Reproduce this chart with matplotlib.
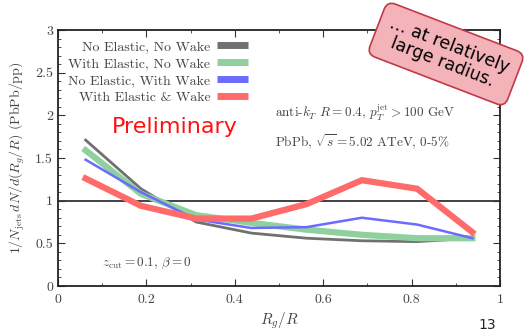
import matplotlib
matplotlib.use("Agg")
import matplotlib.pyplot as plt
from matplotlib.ticker import MultipleLocator

plt.rcParams['font.family'] = 'serif'
plt.rcParams['font.serif'] = ['cmr10', 'DejaVu Serif']
plt.rcParams['mathtext.fontset'] = 'cm'
plt.rcParams['axes.formatter.use_mathtext'] = True

x = [0.0625, 0.1875, 0.3125, 0.4375, 0.5625, 0.6875, 0.8125, 0.9375]
no_el_no_wake = [1.71, 1.14, 0.75, 0.62, 0.56, 0.53, 0.52, 0.56]
el_no_wake = [1.59, 1.08, 0.83, 0.74, 0.66, 0.60, 0.56, 0.56]
no_el_wake = [1.48, 1.10, 0.78, 0.68, 0.69, 0.80, 0.72, 0.56]
el_wake = [1.26, 0.94, 0.79, 0.79, 0.96, 1.24, 1.14, 0.63]

labels = ["No Elastic, No Wake", "With Elastic, No Wake",
          "No Elastic, With Wake", "With Elastic & Wake"]
colors = ["#707070", "#8fd19e", "#6b6bff", "#ff6b6b"]
widths = [2.0, 4.5, 1.8, 4.5]
series = [no_el_no_wake, el_no_wake, no_el_wake, el_wake]

fig = plt.figure(figsize=(5.32, 3.36), dpi=100)
ax = fig.add_axes([58/532, 1-286/336, 442/532, 256/336])

ax.axhline(1, color="#333333", lw=1.3, zorder=1)
handles = []
for ys, lab, c, w in zip(series, labels, colors, widths):
    h, = ax.plot(x, ys, color=c, lw=w, label=lab, solid_joinstyle='miter', zorder=2)
    handles.append(h)

ax.set_xlim(0, 1)
ax.set_ylim(0, 3)
ax.xaxis.set_major_locator(MultipleLocator(0.2))
ax.xaxis.set_minor_locator(MultipleLocator(0.1))
ax.yaxis.set_major_locator(MultipleLocator(0.5))
ax.yaxis.set_minor_locator(MultipleLocator(0.1))
ax.tick_params(which='both', direction='in', top=True, right=True, labelsize=10, colors='#333333', labelcolor='#444444')
ax.tick_params(which='major', length=5)
ax.tick_params(which='minor', length=2.5)
ax.tick_params(axis='x', pad=6)
for s in ax.spines.values():
    s.set_linewidth(1.3)
    s.set_color('#222222')
ax.set_xticks([0, 0.2, 0.4, 0.6, 0.8, 1.0])
ax.set_xticklabels(["0", "0.2", "0.4", "0.6", "0.8", "1"])
ax.set_yticks([0, 0.5, 1, 1.5, 2, 2.5, 3])
ax.set_yticklabels(["0", "0.5", "1", "1.5", "2", "2.5", "3"])

ax.set_xlabel(r"$R_g/R$", fontsize=11, color='#444444', labelpad=3)
ax.set_ylabel(r"$1/N_{\rm jets}\, dN/d(R_g/R)$ (PbPb/pp)", fontsize=10, color='#444444', labelpad=6)

leg = ax.legend(handles=handles, loc='upper left', bbox_to_anchor=(0.0, 1.0),
                frameon=False, fontsize=10, markerfirst=False, handlelength=2.2,
                labelspacing=0.3, borderaxespad=0.35, handletextpad=0.5)
for t in leg.get_texts():
    t.set_color('#444444')
for lh in leg.get_lines():
    lh.set_linewidth(5)
    lh.set_solid_capstyle('butt')

ax.text(0.265, 0.62, "Preliminary", transform=ax.transAxes, fontsize=16,
        color='#ff1111', family='DejaVu Sans', ha='center', va='center')
ax.text(0.49, 0.675, r"anti-$k_T$ $R=0.4$, $p_T^{\rm jet}>100$ GeV", transform=ax.transAxes,
        fontsize=9.5, color='#444444', ha='left', va='center')
ax.text(0.49, 0.565, r"PbPb, $\sqrt{s}=5.02$ ATeV, 0-5%", transform=ax.transAxes,
        fontsize=9.5, color='#444444', ha='left', va='center')
ax.text(0.1, 0.09, r"$z_{\rm cut}=0.1$, $\beta=0$", transform=ax.transAxes,
        fontsize=9.5, color='#444444', ha='left', va='center')

fig.text(446/532, 1-54/336, "\u2026 at relatively\nlarge radius.", family='DejaVu Sans',
         fontsize=12.5, color='black', ha='center', va='center', rotation=-21,
         linespacing=1.0,
         bbox=dict(boxstyle='round,pad=0.6,rounding_size=0.5', fc='#f4b3b9', ec='#c03a48', lw=1.2))

fig.text(487/532, 1-325/336, "13", family='DejaVu Sans', fontsize=10, color='#222222',
         ha='center', va='center')

fig.savefig("out.png", dpi=100)
